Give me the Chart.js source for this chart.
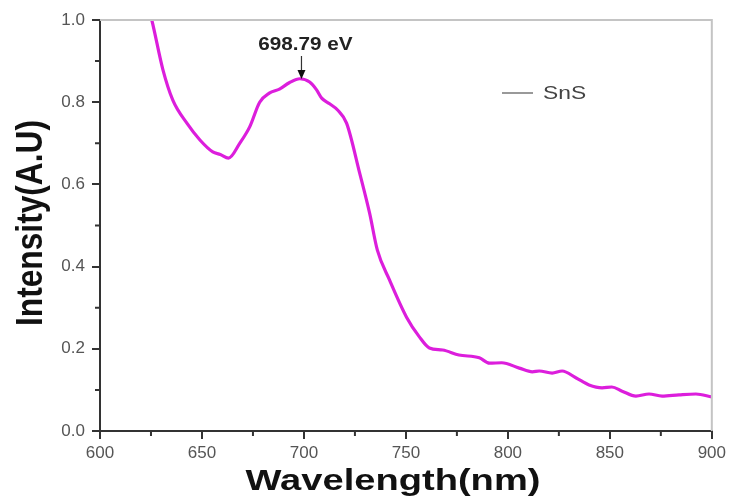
<!DOCTYPE html>
<html>
<head>
<meta charset="utf-8">
<script src="https://cdn.jsdelivr.net/npm/chart.js@4.4.1/dist/chart.umd.min.js"></script>
<style>
  html, body { margin: 0; padding: 0; background: #fff; }
  #wrap { width: 730px; height: 500px; }
</style>
</head>
<body>
<div id="wrap"><canvas id="chart" width="730" height="500"></canvas></div>
<script>
// wavelength (nm) and intensity
var wavelength = [622, 625.4, 630.8, 635.7, 642.6, 649, 655.3, 659, 663, 668.5, 673.4, 678.3, 683, 688, 693, 698,
    702.8, 706.2, 708.7, 712.6, 716.5, 720.9, 727.3, 732.2, 736, 742, 750.3, 756.6, 761.5, 768, 776, 786, 791,
    797, 805.6, 812, 815.4, 821.7, 826.6, 833.5, 839.8, 846.2, 851, 856, 862.8, 869.2, 875.6, 883.9, 892.2, 900];
var intensity = [1.06, 1.0, 0.88, 0.805, 0.749, 0.708, 0.679, 0.673, 0.664, 0.70, 0.74, 0.80, 0.822, 0.832, 0.848, 0.857,
    0.849, 0.83, 0.81, 0.796, 0.781, 0.749, 0.628, 0.53, 0.44, 0.367, 0.277, 0.229, 0.202, 0.197, 0.185, 0.178, 0.165,
    0.166, 0.153, 0.144, 0.146, 0.141, 0.146, 0.129, 0.112, 0.105, 0.107, 0.097, 0.085, 0.09, 0.085, 0.088, 0.09, 0.083];

var seriesName = "SnS";
var peakWavelength = 698.79;
var peakLabel = "698.79 eV";
var xTitle = "Wavelength(nm)";
var yTitle = "Intensity(A.U)";

var points = wavelength.map(function (w, i) { return { x: w, y: intensity[i] }; });

// frame, minor ticks, titles, peak arrow and legend
var decor = {
    id: "decor",
    afterDraw: function (chart) {
        var ctx = chart.ctx;
        var a = chart.chartArea;
        var xs = chart.scales.x, ys = chart.scales.y;
        ctx.save();

        // light top / right frame
        ctx.strokeStyle = "#c4c4c4";
        ctx.lineWidth = 2;
        ctx.beginPath();
        ctx.moveTo(a.left, a.top);
        ctx.lineTo(a.right, a.top);
        ctx.lineTo(a.right, a.bottom);
        ctx.stroke();

        // minor ticks
        ctx.strokeStyle = "#333";
        ctx.lineWidth = 2;
        ctx.beginPath();
        for (var v = 625; v < 900; v += 50) {
            var px = xs.getPixelForValue(v);
            ctx.moveTo(px, a.bottom);
            ctx.lineTo(px, a.bottom + 5);
        }
        for (var k = 1; k < 10; k += 2) {
            var py = ys.getPixelForValue(k / 10);
            ctx.moveTo(a.left, py);
            ctx.lineTo(a.left - 5, py);
        }
        ctx.stroke();

        // axis titles
        ctx.fillStyle = "#111";
        ctx.textAlign = "center";
        ctx.textBaseline = "alphabetic";
        ctx.save();
        ctx.translate(393, 490);
        ctx.scale(1.27, 1);
        ctx.font = "bold 30px 'Liberation Sans', Arial, sans-serif";
        ctx.fillText(xTitle, 0, 0);
        ctx.restore();

        ctx.save();
        ctx.translate(42, 223);
        ctx.rotate(-Math.PI / 2);
        ctx.scale(0.88, 1);
        ctx.font = "bold 36px 'Liberation Sans', Arial, sans-serif";
        ctx.fillText(yTitle, 0, 0);
        ctx.restore();

        // peak label and arrow
        var pk = xs.getPixelForValue(peakWavelength);
        ctx.save();
        ctx.translate(pk + 4, 50);
        ctx.scale(1.15, 1);
        ctx.fillStyle = "#222";
        ctx.font = "bold 18px 'Liberation Sans', Arial, sans-serif";
        ctx.fillText(peakLabel, 0, 0);
        ctx.restore();
        ctx.strokeStyle = "#333";
        ctx.lineWidth = 1.2;
        ctx.beginPath();
        ctx.moveTo(pk, 56);
        ctx.lineTo(pk, 72);
        ctx.stroke();
        ctx.fillStyle = "#111";
        ctx.beginPath();
        ctx.moveTo(pk - 4, 70);
        ctx.lineTo(pk + 4, 70);
        ctx.lineTo(pk, 79);
        ctx.closePath();
        ctx.fill();

        // legend
        ctx.strokeStyle = "#777";
        ctx.lineWidth = 1.5;
        ctx.beginPath();
        ctx.moveTo(502, 93);
        ctx.lineTo(533, 93);
        ctx.stroke();
        ctx.save();
        ctx.translate(543, 99);
        ctx.scale(1.2, 1);
        ctx.fillStyle = "#444";
        ctx.textAlign = "left";
        ctx.font = "19px 'Liberation Sans', Arial, sans-serif";
        ctx.fillText(seriesName, 0, 0);
        ctx.restore();

        ctx.restore();
    }
};

var ctx = document.getElementById("chart").getContext("2d");
var chart = new Chart(ctx, {
    type: "line",
    data: {
        datasets: [{
            label: seriesName,
            data: points,
            borderColor: "#dc1edc",
            borderWidth: 3.2,
            pointRadius: 0,
            fill: false,
            cubicInterpolationMode: "monotone"
        }]
    },
    options: {
        responsive: false,
        animation: false,
        layout: { padding: { top: 20, right: 15, left: 0, bottom: 0 } },
        plugins: {
            legend: { display: false },
            tooltip: { enabled: false }
        },
        scales: {
            x: {
                type: "linear",
                min: 600,
                max: 900,
                afterFit: function (s) { s.height = 69; },
                border: { color: "#333", width: 2 },
                grid: { drawOnChartArea: false, drawTicks: true, tickLength: 8, color: "#333", lineWidth: 2 },
                ticks: {
                    stepSize: 50,
                    padding: 4,
                    color: "#555",
                    font: { family: "'Liberation Sans', Arial, sans-serif", size: 17 }
                }
            },
            y: {
                min: 0,
                max: 1,
                afterFit: function (s) { s.width = 100; },
                border: { color: "#333", width: 2 },
                grid: { drawOnChartArea: false, drawTicks: true, tickLength: 8, color: "#333", lineWidth: 2 },
                ticks: {
                    stepSize: 0.2,
                    padding: 7,
                    color: "#555",
                    font: { family: "'Liberation Sans', Arial, sans-serif", size: 17 },
                    callback: function (v) { return v.toFixed(1); }
                }
            }
        }
    },
    plugins: [decor]
});
</script>
</body>
</html>
